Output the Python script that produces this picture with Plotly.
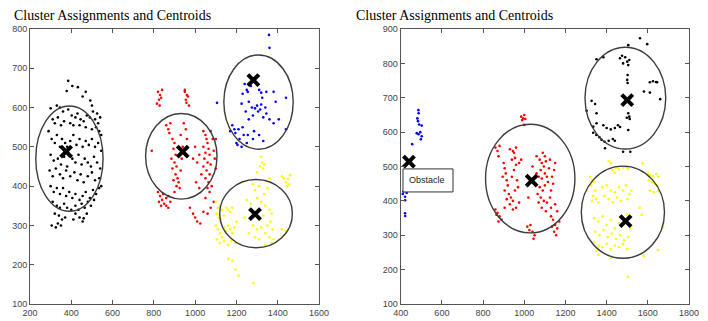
import plotly.graph_objects as go

# ---------------- Left panel data ----------------
left_black_x = [385,405,378,432,470,455,492,500,
    300,330,345,360,385,402,420,430,445,460,475,490,505,515,525,530,540,310,320,335,350,365,395,410,440,470,500,520,535,545,
    290,305,320,330,345,355,370,380,395,410,425,440,455,470,485,500,515,530,545,300,315,335,350,365,380,405,420,435,450,465,480,495,510,525,540,295,310,325,345,360,375,395,415,430,445,460,480,500,515,535,545,
    300,315,330,345,360,375,390,405,420,440,455,470,490,505,520,535,310,330,345,365,380,400,420,435,450,465,480,495,510,
    320,340,355,370,335,350,305,325,420,440,460,475,455,410]
left_black_y = [668,655,642,652,640,628,618,605,
    598,605,600,590,595,580,575,585,570,565,580,575,590,570,585,560,575,570,560,575,555,565,560,555,555,550,545,550,540,530,
    540,520,510,530,500,520,510,500,515,530,505,520,500,515,505,520,500,510,490,480,465,470,455,475,450,470,460,480,455,470,460,450,475,460,445,440,425,445,430,420,440,425,435,415,430,410,425,435,415,420,400,
    400,385,395,380,395,375,385,370,380,365,375,385,370,390,380,395,360,350,345,355,345,340,350,340,355,345,360,350,365,
    330,325,315,320,305,300,300,295,330,320,318,330,310,315]

left_red_x = [820,830,825,835,815,840,828,950,960,955,965,958,970,950,
    860,870,875,880,890,900,895,905,885,900,910,890,905,915,920,895,910,925,900,930,935,940,930,955,945,960,
    790,
    1040,1050,1055,1060,1040,1065,1050,1070,1045,1060,1075,1040,1055,1070,1050,1065,1080,1060,1070,1050,1090,1075,1020,1010,1030,1000,1085,1090,1095,1100,1100,1075,1005,1020,990,
    820,830,840,850,860,870,880,835,845,860,825,870,
    975,990,1000,1010,1025,1040,1060]
left_red_y = [640,632,620,625,610,645,605,640,632,620,628,612,605,645,
    555,545,535,560,520,510,495,480,470,460,450,445,430,420,410,415,400,395,385,440,470,500,530,545,560,520,
    490,
    540,530,520,510,500,495,485,480,470,460,455,450,440,430,420,410,400,395,385,370,360,345,480,460,430,500,520,490,470,445,520,540,410,395,470,
    385,375,365,355,350,345,360,350,380,370,360,375,
    345,330,320,310,305,335,330]

left_blue_x = [1358,1360,1106,1240,1250,1255,1230,1270,1310,1320,1325,1345,1380,1390,
    1225,1260,1275,1290,1300,1305,1315,1320,1340,1345,1360,1280,1260,1330,1245,1380,1405,1440,1440,
    1180,1190,1195,1210,1230,1235,1255,1285,1250,1200,1205,1225,1310,1330,1170,1215,1280]
left_blue_y = [785,752,612,660,645,640,635,655,645,638,625,640,640,615,
    610,615,600,598,605,590,595,608,600,585,570,580,570,575,590,560,570,625,545,
    555,545,535,545,550,530,530,540,510,510,505,500,530,515,540,520,520]

left_yellow_x = [1320,1325,1315,1335,1330,1420,1430,1440,1450,1460,1445,1455,
    1300,1340,1360,1280,1310,1350,1290,1335,
    1100,1110,1120,1130,1105,1115,1125,1140,1150,1160,1170,1180,1100,1110,1120,1130,1140,1150,1160,1170,1180,1190,1200,1105,1120,1140,1160,1175,1195,
    1250,1270,1300,1320,1340,1360,1370,1330,1310,1280,1300,1320,1350,1365,1375,1340,1360,1380,1310,1290,1370,1340,1260,1420,1430,1440,1240,
    1160,1180,1195,1210,1282]
left_yellow_y = [475,460,450,455,445,425,420,410,418,428,400,405,
    435,415,420,405,400,395,390,380,
    360,345,350,340,330,320,315,325,345,340,335,345,300,290,280,270,295,285,300,290,280,295,310,265,255,260,250,260,255,
    365,355,370,360,350,340,330,325,315,300,290,295,300,310,290,280,270,265,265,270,255,250,280,290,275,285,320,
    215,210,188,172,153]

left_cent_x = [375, 940, 1282, 1290]
left_cent_y = [488, 488, 670, 329]

# ellipses: center x, center y, half-width, half-height
left_ell_cx = [391, 933, 1307, 1295]
left_ell_cy = [470, 476, 614, 330]
left_ell_rx = [163, 173, 168, 176]
left_ell_ry = [134, 109, 120, 87]

# ---------------- Right panel data ----------------
right_blue_x = [486,487,481,484,490,502,478,487,495,502,498,456,413,421,429,410,421,421,421,422,418]
right_blue_y = [664,655,640,632,622,619,597,594,600,588,579,565,427,430,423,420,412,402,364,356,440]

right_red_x = [985,995,1000,990,1005,1000,
    860,870,880,875,930,945,960,950,940,955,
    900,905,910,895,915,920,905,925,935,945,930,915,940,950,960,965,970,955,975,985,960,975,945,
    1060,1075,1085,1090,1100,1105,1095,1080,1070,1085,1100,1110,1120,1115,1100,1090,1075,1065,1080,1095,1110,1125,1130,1140,1135,1145,1150,1125,1060,1055,1070,1085,1105,1130,1150,1160,1040,1020,
    860,870,880,890,875,865,905,
    1130,1140,1150,1160,1145,1155,1170,1135,
    1015,1025,1040,1050,1045,1030]
right_red_y = [645,640,650,635,638,621,
    555,545,560,530,550,545,555,540,520,525,
    510,495,480,470,460,445,430,420,410,400,390,405,470,490,505,460,440,430,510,520,380,395,375,
    530,520,510,540,530,515,500,490,470,465,480,470,495,455,445,430,440,420,410,400,395,410,430,450,470,490,510,520,480,450,395,380,370,380,390,370,500,410,
    375,365,355,345,340,360,380,
    355,345,330,320,310,300,340,325,
    325,315,310,300,290,330]

right_black_x = [1562,1597,1505,1351,1384,1465,1475,1490,1500,1510,1480,1505,1502,1500,1502,1610,1625,1640,1645,1581,1610,1660,
    1327,1344,1303,1351,1505,1510,1498,1512,1351,1335,1384,1400,1420,1440,1455,1465,1505,1335,1350,1365,1375,1390,1410,1430,1440,1392,1480,1515]
right_black_y = [873,856,853,812,818,815,822,818,805,810,800,795,766,752,743,745,748,746,745,718,715,696,
    691,682,662,655,655,645,642,638,626,616,620,612,608,612,620,615,606,598,592,585,578,572,575,580,575,553,543,543]

right_yellow_x = [1410,1420,1575,1430,1445,1460,1480,1495,1505,1440,
    1320,1330,1340,1325,1345,1335,1350,1360,1330,
    1600,1610,1625,1640,1650,1605,1620,1635,1645,1610,1630,1650,
    1380,1400,1420,1440,1460,1480,1495,1510,1390,1410,1450,1470,1500,1520,1430,
    1340,1360,1380,1400,1420,1440,1460,1480,1500,1345,1365,1385,1405,1425,1445,1465,1485,1505,1340,1360,1380,1400,1420,1440,1460,1480,1500,1350,1515,
    1360,1420,1580,1650,1675,1505,1560,1570]
right_yellow_y = [516,510,509,490,495,492,497,498,493,482,
    470,460,455,445,430,415,405,395,400,
    480,475,472,478,470,460,455,450,445,430,425,428,
    440,445,430,425,440,430,445,420,415,405,410,400,405,430,395,
    350,340,355,330,345,320,335,350,360,310,300,315,295,305,290,300,285,295,280,270,265,275,260,270,265,275,260,255,320,
    243,234,240,257,324,179,380,360]

right_cent_x = [1036, 1500, 440, 1492]
right_cent_y = [459, 693, 514, 341]

right_ell_cx = [1029, 1491, 1479]
right_ell_cy = [465, 699, 367]
right_ell_rx = [217, 196, 202]
right_ell_ry = [158, 148, 134]

obstacle_label = "Obstacle"
obstacle_box_x = [411, 654]
obstacle_box_y = [426, 493]

# ---------------- Styling ----------------
W, H = 708, 321
AXC = "#555555"
TICKFONT = dict(family="Liberation Sans, Arial, sans-serif", size=9, color="#444444")

fig = go.Figure()

def pts(x, y, color, xa, ya):
    fig.add_trace(go.Scatter(x=x, y=y, mode="markers", xaxis=xa, yaxis=ya,
                             marker=dict(color=color, size=2.6, line=dict(width=0)),
                             showlegend=False, hoverinfo="skip"))

def cents(x, y, xa, ya):
    fig.add_trace(go.Scatter(x=x, y=y, mode="markers", xaxis=xa, yaxis=ya,
                             marker=dict(symbol="x-thin", size=11, color="black",
                                         line=dict(width=4, color="black")),
                             showlegend=False, hoverinfo="skip"))

pts(left_black_x, left_black_y, "#000000", "x", "y")
pts(left_red_x, left_red_y, "#ff0000", "x", "y")
pts(left_blue_x, left_blue_y, "#0000ff", "x", "y")
pts(left_yellow_x, left_yellow_y, "#ffff00", "x", "y")
cents(left_cent_x, left_cent_y, "x", "y")

pts(right_blue_x, right_blue_y, "#0000ff", "x2", "y2")
pts(right_red_x, right_red_y, "#ff0000", "x2", "y2")
pts(right_black_x, right_black_y, "#000000", "x2", "y2")
pts(right_yellow_x, right_yellow_y, "#ffff00", "x2", "y2")
cents(right_cent_x, right_cent_y, "x2", "y2")

for cx, cy, rx, ry in zip(left_ell_cx, left_ell_cy, left_ell_rx, left_ell_ry):
    fig.add_shape(type="circle", xref="x", yref="y", x0=cx - rx, x1=cx + rx,
                  y0=cy - ry, y1=cy + ry, line=dict(color="#3c3c3c", width=1.4), layer="above")
for cx, cy, rx, ry in zip(right_ell_cx, right_ell_cy, right_ell_rx, right_ell_ry):
    fig.add_shape(type="circle", xref="x2", yref="y2", x0=cx - rx, x1=cx + rx,
                  y0=cy - ry, y1=cy + ry, line=dict(color="#3c3c3c", width=1.4), layer="above")

fig.add_shape(type="rect", xref="x2", yref="y2", x0=obstacle_box_x[0], x1=obstacle_box_x[1],
              y0=obstacle_box_y[0], y1=obstacle_box_y[1],
              line=dict(color="#333333", width=1), fillcolor="white", layer="above")
fig.add_annotation(xref="x2", yref="y2", x=obstacle_box_x[0] + 20, y=sum(obstacle_box_y) / 2,
                   text=obstacle_label, showarrow=False, xanchor="left", yanchor="middle",
                   font=dict(family="Liberation Sans, Arial, sans-serif", size=9, color="#222222"))

title_font = dict(family="Liberation Serif, Times New Roman, serif", size=14, color="black")
fig.add_annotation(xref="paper", yref="paper", x=12 / W, y=1 - 6 / H, xanchor="left", yanchor="top",
                   text="Cluster Assignments and Centroids", showarrow=False, font=title_font)
fig.add_annotation(xref="paper", yref="paper", x=354 / W, y=1 - 6 / H, xanchor="left", yanchor="top",
                   text="Cluster Assignments and Centroids", showarrow=False, font=title_font)

def ax(domain, rng, dtick, anchor):
    return dict(domain=domain, range=rng, dtick=dtick, tick0=0, anchor=anchor,
                showgrid=False, zeroline=False, showline=True, mirror="ticks",
                linecolor=AXC, linewidth=1, ticks="inside", ticklen=4, tickcolor=AXC,
                tickfont=TICKFONT, fixedrange=True, automargin=False)

ydom = [(H - 304) / H, (H - 29) / H]
fig.update_layout(
    width=W, height=H, margin=dict(l=0, r=0, t=0, b=0, pad=0), autosize=False,
    paper_bgcolor="white", plot_bgcolor="white",
    xaxis=ax([30 / W, 319 / W], [200, 1600], 200, "y"),
    yaxis=ax(ydom, [100, 800], 100, "x"),
    xaxis2=ax([400.7 / W, 689 / W], [400, 1800], 200, "y2"),
    yaxis2=ax(ydom, [100, 900], 100, "x2"),
)

fig.write_html("out.html", config={"displayModeBar": False},
               post_script="document.body.style.margin='0px';document.body.style.overflow='hidden';")
